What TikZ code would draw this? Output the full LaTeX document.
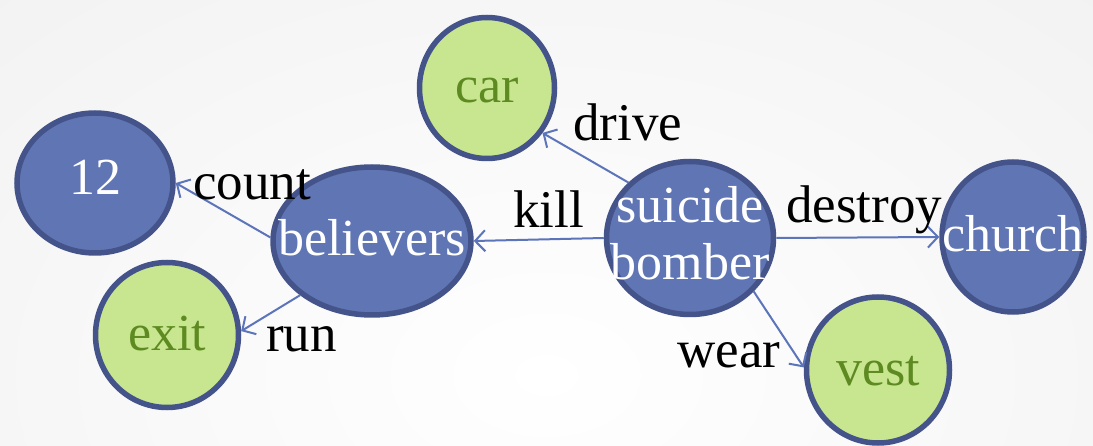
\documentclass[tikz,border=0pt]{standalone}
\usepackage{fontspec}
\setmainfont{Liberation Serif}
\usetikzlibrary{shapes.geometric,arrows.meta}

\definecolor{nodeblue}{RGB}{96,117,179}
\definecolor{rimblue}{RGB}{68,84,138}
\definecolor{nodegreen}{RGB}{200,230,143}
\definecolor{textgreen}{RGB}{94,138,34}
\definecolor{linkblue}{RGB}{92,116,186}

\tikzset{
  concept/.style={ellipse, draw=rimblue, line width=5.5pt, inner sep=0pt,
    font=\fontsize{52}{57}\selectfont, text height=30pt, text depth=0pt},
  agent/.style={concept, fill=nodeblue, text=white},
  thing/.style={concept, fill=nodegreen, text=textgreen},
  link/.style={draw=linkblue, line width=2pt,
    -{Straight Barb[length=10pt, width=21pt, line width=2pt]}},
  verb/.style={anchor=base west, inner sep=0pt, text=black,
    font=\fontsize{53}{58}\selectfont},
}

\newcommand{\ctext}[1]{\makebox[0pt]{#1}}

\begin{document}
\begin{tikzpicture}[x=1pt, y=-1pt]
  % page background with a faint grey vignette, lightest towards the bottom
  \useasboundingbox (0,0) rectangle (1093,446);
  \shade[inner color=white, outer color=black!5] (-250,-150) rectangle (1343,900);

  % concepts
  \node[thing, minimum width=135pt, minimum height=141pt] (car) at (487,88) {\ctext{car}};
  \node[agent, minimum width=156pt, minimum height=140pt, text height=24pt] (twelve) at (95,183) {\ctext{12}};
  \node[agent, minimum width=198pt, minimum height=148pt] (believers) at (372,241) {\ctext{believers}};
  \node[thing, minimum width=143pt, minimum height=145pt, text height=32pt] (exit) at (167,335) {\ctext{exit}};
  \node[agent, minimum width=167pt, minimum height=153pt, text height=0pt, text depth=30pt] (bomber) at (690,238)
    {\ctext{\fontsize{52}{57}\selectfont\begin{tabular}[t]{@{}c@{}}suicide\\bomber\end{tabular}}};
  \node[agent, minimum width=142pt, minimum height=150pt] (church) at (1013,237) {\ctext{church}};
  \node[thing, minimum width=143pt, minimum height=146pt] (vest) at (878,370) {\ctext{vest}};

  % relations
  \draw[link] (bomber.138) -- (car.-39);
  \draw[link] (believers.178) -- (twelve.0);
  \draw[link] (bomber.180) -- (believers.0);
  \draw[link] (believers.217) -- (exit.3);
  \draw[link] (bomber.0) -- (church.180);
  \draw[link] (bomber.-40) -- (vest.178);

  % relation names
  \node[verb] (ldrive) at (573,141) {drive};
  \node[verb] (lcount) at (193,200) {count};
  \node[verb] (lkill) at (513,228) {kill};
  \node[verb] (ldestroy) at (786,223) {destroy};
  \node[verb] (lrun) at (266,352) {run};
  \node[verb] (lwear) at (677,368) {wear};
\end{tikzpicture}
\end{document}
